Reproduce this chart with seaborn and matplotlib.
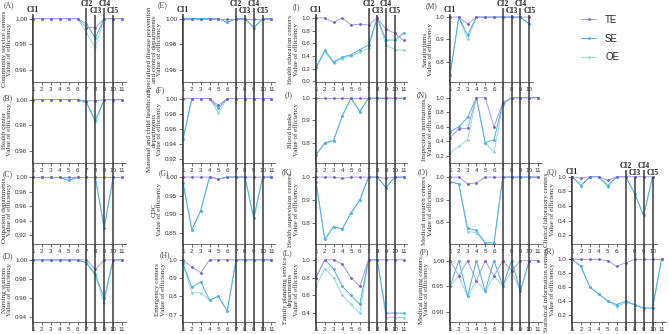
import matplotlib
matplotlib.use('Agg')
import matplotlib.pyplot as plt
import seaborn as sns
import pandas as pd

sns.set_style('ticks')
plt.rcParams['font.family'] = ['Liberation Sans', 'DejaVu Sans']
SERIF = ['Liberation Serif', 'DejaVu Serif']

x11 = list(range(1, 12))
x10 = list(range(1, 11))

# efficiency values (TE, SE, OE per institution type)
a_te = [1, 1, 1, 1, 1, 1, 0.993, 0.993, 1, 1, 1]
a_se = [1, 1, 1, 1, 1, 1, 0.996, 0.985, 1, 1, 1]
a_oe = [1, 1, 1, 1, 1, 1, 0.989, 0.978, 1, 1, 1]
b_te = [1, 1, 1, 1, 1, 1, 0.999, 0.999, 1, 1, 1]
b_se = [1, 1, 1, 1, 1, 1, 0.998, 0.984, 1, 1, 1]
b_oe = [1, 1, 1, 1, 1, 1, 0.997, 0.983, 1, 1, 1]
c_te = [1, 1, 1, 1, 1, 1, 1, 1, 1, 1, 1]
c_se = [1, 1, 1, 1, 0.996, 1, 1, 1, 0.93, 1, 1]
c_oe = [1, 1, 1, 1, 0.996, 1, 1, 1, 0.93, 1, 1]
d_te = [1, 1, 1, 1, 1, 1, 1, 0.99, 1, 1, 1]
d_se = [1, 1, 1, 1, 1, 1, 0.997, 0.985, 0.96, 1, 1]
d_oe = [1, 1, 1, 1, 1, 1, 0.997, 0.983, 0.955, 1, 1]
e_te = [1, 1, 1, 1, 1, 1, 1, 1, 1, 1, 1]
e_se = [1, 1, 1, 1, 1, 0.997, 1, 1, 0.993, 1, 1]
e_oe = [1, 1, 1, 1, 1, 0.997, 1, 1, 0.993, 1, 1]
f_te = [1, 1, 1, 1, 0.991, 1, 1, 1, 1, 1, 1]
f_se = [0.946, 1, 1, 1, 0.987, 1, 1, 1, 1, 1, 1]
f_oe = [0.946, 1, 1, 1, 0.981, 1, 1, 1, 1, 1, 1]
g_te = [1, 1, 1, 1, 0.995, 1, 1, 1, 1, 1, 1]
g_se = [0.985, 0.858, 0.91, 1, 0.995, 1, 1, 1, 0.89, 1, 1]
g_oe = [0.985, 0.858, 0.91, 1, 0.995, 1, 1, 1, 0.89, 1, 1]
h_te = [1, 0.96, 0.93, 1, 1, 1, 1, 1, 1, 1, 1]
h_se = [0.98, 0.85, 0.88, 0.78, 0.8, 0.72, 1, 1, 1, 1, 1]
h_oe = [0.98, 0.82, 0.82, 0.78, 0.8, 0.72, 1, 1, 1, 1, 1]
i_te = [1, 1, 0.93, 1, 0.89, 0.9, 0.89, 1, 0.82, 0.76, 0.65]
i_se = [0.22, 0.49, 0.31, 0.38, 0.42, 0.5, 0.57, 1, 0.65, 0.65, 0.76]
i_oe = [0.2, 0.47, 0.29, 0.36, 0.4, 0.46, 0.52, 1, 0.57, 0.5, 0.49]
j_te = [1, 1, 1, 1, 1, 1, 1, 1, 1, 1, 1]
j_se = [0.746, 0.8, 0.81, 0.92, 1, 0.94, 1, 1, 1, 1, 1]
j_oe = [0.746, 0.8, 0.81, 0.92, 1, 0.94, 1, 1, 1, 1, 1]
k_te = [1, 1, 1, 0.995, 1, 1, 1, 1, 0.995, 1, 1]
k_se = [0.98, 0.73, 0.785, 0.775, 0.845, 0.9, 1, 1, 0.955, 1, 1]
k_oe = [0.98, 0.73, 0.785, 0.775, 0.845, 0.9, 1, 1, 0.955, 1, 1]
l_te = [0.8, 1, 1, 0.95, 0.8, 0.7, 1, 1, 1, 1, 1]
l_se = [0.8, 1, 0.9, 0.7, 0.6, 0.5, 1, 1, 0.4, 0.4, 0.4]
l_oe = [0.7, 0.9, 0.8, 0.6, 0.5, 0.4, 1, 1, 0.35, 0.35, 0.35]
m_te = [1, 1, 0.97, 1, 1, 1, 1, 1, 1, 1]
m_se = [0.74, 1, 0.92, 1, 1, 1, 1, 1, 1, 0.97]
m_oe = [0.74, 1, 0.9, 1, 1, 1, 1, 1, 1, 0.97]
n_te = [0.45, 0.57, 0.58, 1, 1, 0.6, 0.93, 1, 1, 1, 1]
n_se = [0.53, 0.6, 0.73, 1, 0.38, 0.42, 0.93, 1, 1, 1, 1]
n_oe = [0.24, 0.33, 0.42, 1, 0.38, 0.25, 0.9, 1, 1, 1, 1]
o_te = [1, 1, 0.97, 0.975, 1, 1, 1, 1, 1, 1, 1]
o_se = [0.98, 0.97, 0.775, 0.765, 0.71, 0.71, 1, 1, 1, 1, 1]
o_oe = [0.98, 0.97, 0.76, 0.755, 0.71, 0.71, 1, 1, 1, 1, 1]
p_te = [1, 0.97, 1, 0.96, 1, 0.97, 1, 0.98, 1, 1, 1]
p_se = [0.95, 1, 0.93, 1, 0.94, 1, 0.95, 1, 0.94, 1, 1]
p_oe = [0.95, 0.97, 0.93, 0.96, 0.94, 0.97, 0.95, 0.98, 0.94, 1, 1]
q_te = [1, 0.98, 1, 1, 0.95, 1, 1, 1, 1, 1]
q_se = [1, 0.88, 1, 1, 0.88, 1, 1, 0.77, 0.47, 1]
q_oe = [1, 0.88, 1, 1, 0.86, 1, 1, 0.77, 0.47, 1]
r_te = [1, 1, 1, 1, 0.98, 0.9, 0.95, 1, 1, 1, 1]
r_se = [1, 0.9, 0.6, 0.5, 0.4, 0.35, 0.4, 0.35, 0.3, 0.3, 1]
r_oe = [1, 0.9, 0.6, 0.5, 0.4, 0.32, 0.38, 0.35, 0.3, 0.3, 1]

ci_pos = [1, 7, 8, 9, 10]
ci_names = ['CI1', 'CI2', 'CI3', 'CI4', 'CI5']

TE_C, SE_C, OE_C = '#a59ee0', '#4fb0e4', '#93d9df'

# letter, label, te, se, oe, yticks, ylim, fmt, col, row
panels = [
    ('A', 'Community service centers', a_te, a_se, a_oe, [0.96, 0.98, 1.0], (0.951, 1.002), '%.2f', 0, 0),
    ('B', 'Health center', b_te, b_se, b_oe, [0.96, 0.98, 1.0], (0.951, 1.002), '%.2f', 0, 1),
    ('C', 'Outpatient departments', c_te, c_se, c_oe, [0.92, 0.94, 0.96, 0.98, 1.0], (0.908, 1.002), '%.2f', 0, 2),
    ('D', 'Nursing stations', d_te, d_se, d_oe, [0.94, 0.96, 0.98, 1.0], (0.935, 1.002), '%.2f', 0, 3),
    ('E', 'Specialized disease prevention\nand control departments', e_te, e_se, e_oe, [0.96, 0.98, 1.0], (0.951, 1.002), '%.2f', 1, 0),
    ('F', 'Maternal and child healthcare\ndepartments', f_te, f_se, f_oe, [0.92, 0.94, 0.96, 0.98, 1.0], (0.915, 1.002), '%.2f', 1, 1),
    ('G', 'CDC', g_te, g_se, g_oe, [0.85, 0.90, 0.95, 1.0], (0.82, 1.003), '%.2f', 1, 2),
    ('H', 'Emergency centers', h_te, h_se, h_oe, [0.7, 0.8, 0.9, 1.0], (0.66, 1.01), '%.1f', 1, 3),
    ('I', 'Health education centers', i_te, i_se, i_oe, [0.0, 0.2, 0.4, 0.6, 0.8, 1.0], (-0.01, 1.03), '%.1f', 2, 0),
    ('J', 'Blood banks', j_te, j_se, j_oe, [0.8, 0.9, 1.0], (0.71, 1.005), '%.1f', 2, 1),
    ('K', 'Health supervision centers', k_te, k_se, k_oe, [0.8, 0.9, 1.0], (0.71, 1.005), '%.1f', 2, 2),
    ('L', 'Family planning service\ndepartments', l_te, l_se, l_oe, [0.4, 0.6, 0.8, 1.0], (0.3, 1.02), '%.1f', 2, 3),
    ('M', 'Sanatoriums', m_te, m_se, m_oe, [0.8, 0.9, 1.0], (0.71, 1.005), '%.1f', 3, 0),
    ('N', 'Inspection institutions', n_te, n_se, n_oe, [0.2, 0.4, 0.6, 0.8, 1.0], (0.1, 1.01), '%.1f', 3, 1),
    ('O', 'Medical research centers', o_te, o_se, o_oe, [0.8, 0.9, 1.0], (0.705, 1.005), '%.1f', 3, 2),
    ('P', 'Medical training centers', p_te, p_se, p_oe, [0.90, 0.95, 1.0], (0.88, 1.005), '%.2f', 3, 3),
    ('Q', 'Clinical laboratory centers', q_te, q_se, q_oe, [0.2, 0.4, 0.6, 0.8, 1.0], (0.08, 1.01), '%.1f', 4, 2),
    ('R', 'Statistical information centers', r_te, r_se, r_oe, [0.2, 0.4, 0.6, 0.8, 1.0], (0.1, 1.02), '%.1f', 4, 3),
]

W, H = 669, 334
col_x1 = [33, 183, 316, 450, 572]
col_u = [8.9, 8.85, 8.75, 8.8, 8.95]
row_top = [16, 97, 176, 258]
row_bot = [82, 163, 244, 322]


def fx(px):
    return px / W


def fy(py):
    return 1 - py / H


fig = plt.figure(figsize=(6.69, 3.34), dpi=100)
axes_first = None
for letter, label, te, se, oe, yt, yl, fmt, c, r in panels:
    n = len(te)
    xs = x11 if n == 11 else x10
    lo, hi = 0.9, n + 0.45
    left = col_x1[c] + (lo - 1) * col_u[c]
    right = col_x1[c] + (hi - 1) * col_u[c]
    ax = fig.add_axes([fx(left), fy(row_bot[r]), fx(right - left), (row_bot[r] - row_top[r]) / H])
    df = pd.DataFrame({'x': xs * 3, 'v': oe + se + te,
                       'kind': ['OE'] * n + ['SE'] * n + ['TE'] * n})
    for kind, col, mc in [('OE', OE_C, OE_C), ('SE', SE_C, SE_C), ('TE', TE_C, '#7a62c4')]:
        sns.lineplot(data=df[df['kind'] == kind], x='x', y='v', ax=ax, color=col,
                     linewidth=0.7, marker='.', markersize=2.5, markerfacecolor=mc,
                     markeredgecolor=mc, label=kind, legend=False)
    ax.set_xlim(lo, hi)
    ax.set_ylim(*yl)
    ax.set_xticks(xs)
    ax.set_yticks(yt)
    ax.set_yticklabels([fmt % v for v in yt])
    ax.tick_params(labelsize=4.5, length=2, width=0.5, pad=1.5, colors='#333333')
    ax.set_xlabel('')
    ax.set_ylabel(label + '\nValue of efficiency', fontsize=5.0, family=SERIF,
                  labelpad=2, linespacing=1.0, color='#333333')
    for s in ['top', 'right']:
        ax.spines[s].set_visible(False)
    for s in ['left', 'bottom']:
        ax.spines[s].set_linewidth(0.6)
        ax.spines[s].set_color('#555555')
    if axes_first is None:
        axes_first = ax

# panel letters (pixel positions)
letter_pos = {'A': (9, 5), 'B': (8, 98), 'C': (8, 174), 'D': (8, 256),
              'E': (162, 5), 'F': (160, 90), 'G': (164, 173), 'H': (165, 255),
              'I': (296, 7), 'J': (289, 95), 'K': (287, 172), 'L': (287, 253),
              'M': (431, 6), 'N': (422, 95), 'O': (423, 172), 'P': (424, 252),
              'Q': (552, 172), 'R': (550, 251)}
for k, (px, py) in letter_pos.items():
    fig.text(fx(px), fy(py), '(' + k + ')', fontsize=5.5, family=SERIF, color='#444444',
             ha='center', va='center')

# CI vertical lines running through each column
ci_label_y = [10, 4, 11, 4, 11]
for c in range(5):
    lo, hi = 0.9, 11.45
    left = col_x1[c] + (lo - 1) * col_u[c]
    right = col_x1[c] + (hi - 1) * col_u[c]
    ov = fig.add_axes([fx(left), 0, fx(right - left), 1])
    ov.set_xlim(lo, hi)
    ov.set_ylim(H, 0)
    ov.set_axis_off()
    shift = 0 if c < 4 else 162
    for xp, nm, ly in zip(ci_pos, ci_names, ci_label_y):
        ov.vlines(xp, ly + shift + 4, 331, color='#3a3a3a', linewidth=1.1)
        ov.text(xp, ly + shift, nm, fontsize=5.5, family=SERIF, fontweight='bold',
                ha='center', va='center', color='#222222')

handles, labels = axes_first.get_legend_handles_labels()
order = [labels.index(k) for k in ['TE', 'SE', 'OE']]
fig.legend([handles[i] for i in order], ['TE', 'SE', 'OE'], loc='upper left',
           bbox_to_anchor=(fx(572), fy(6)), frameon=False, fontsize=7,
           handlelength=1.6, labelspacing=0.9, handletextpad=0.9)

fig.savefig('out.png', dpi=100)
